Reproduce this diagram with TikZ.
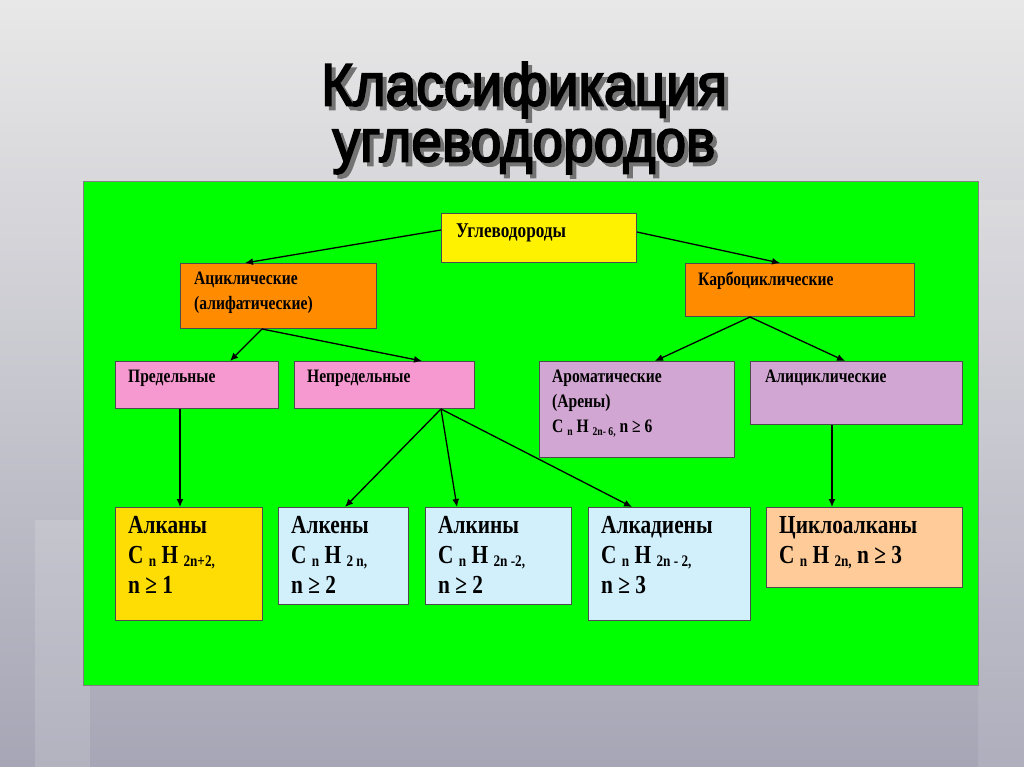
\documentclass[tikz,border=0pt]{standalone}
\usetikzlibrary{arrows.meta,calc}
\usepackage{fontspec}
\setmainfont{Liberation Serif}[FakeStretch=0.82]
\newfontfamily\titlefont{Liberation Sans}[FakeBold=3,FakeStretch=0.92]
\newcommand{\sbs}[1]{\raisebox{-0.3ex}{\fontsize{0.62em}{1em}\selectfont #1}}
\begin{document}
\begin{tikzpicture}[x=1pt,y=-1pt,
  bx/.style={draw=black!70, line width=1pt, anchor=north west, inner sep=0pt},
  lb/.style={anchor=north west, align=left, inner sep=0pt, font=\bfseries\fontsize{19}{25}\selectfont},
  lbb/.style={anchor=north west, align=left, inner sep=0pt, font=\bfseries\fontsize{26}{30}\selectfont},
  ar/.style={-{Latex[length=8pt,width=7pt]}, line width=1.3pt}]
\useasboundingbox (0,0) rectangle (1024,767);
\shade[top color=black!9, bottom color=blue!18!black!35] (0,0) rectangle (1024,767);
\fill[white, opacity=0.15] (35,520) rectangle (90,767);
\fill[white, opacity=0.1] (978,200) rectangle (1024,767);
% title
\foreach \dx/\c in {4/black!55, 0/black}{
\node[text=\c, font=\titlefont\fontsize{60}{56}\selectfont, align=center] (t\dx) at (524+\dx,118+\dx) {Классификация\\углеводородов};}
\node[bx, fill=green, draw=black!50, minimum width=895, minimum height=504] (panel) at (83,181) {};
% boxes
\node[bx, fill=yellow, minimum width=195, minimum height=49] (u) at (441,213) {};
\node[bx, fill=orange!90!yellow, minimum width=196, minimum height=65] (ac) at (180,263) {};
\node[bx, fill=orange!90!yellow, minimum width=229, minimum height=53] (kc) at (685,263) {};
\node[bx, fill=magenta!40, minimum width=163, minimum height=47] (pr) at (115,361) {};
\node[bx, fill=magenta!40, minimum width=180, minimum height=47] (np) at (294,361) {};
\node[bx, fill=violet!35, minimum width=195, minimum height=96] (arm) at (539,361) {};
\node[bx, fill=violet!35, minimum width=212, minimum height=63] (al) at (750,361) {};
\node[bx, fill=yellow!80!orange, minimum width=147, minimum height=113] (b1) at (115,507) {};
\node[bx, fill=cyan!18, minimum width=130, minimum height=97] (b2) at (278,507) {};
\node[bx, fill=cyan!18, minimum width=146, minimum height=97] (b3) at (425,507) {};
\node[bx, fill=cyan!18, minimum width=162, minimum height=113] (b4) at (588,507) {};
\node[bx, fill=orange!40, minimum width=196, minimum height=80] (b5) at (766,507) {};
% labels
\node[lb, font=\bfseries\fontsize{21}{26}\selectfont] (lu) at (456,224) {Углеводороды};
\node[lb] (lac) at (194,272) {Ациклические\\(алифатические)};
\node[lb] (lkc) at (698,272) {Карбоциклические};
\node[lb] (lpr) at (128,370) {Предельные};
\node[lb] (lnp) at (307,370) {Непредельные};
\node[lb] (larm) at (552,370) {Ароматические\\(Арены)\\C \sbs{n} H \sbs{2n- 6,} n ≥ 6};
\node[lb] (lal) at (765,370) {Алициклические};
\node[lbb] (l1) at (128,516) {Алканы\\C \sbs{n} H \sbs{2n+2,}\\n ≥ 1};
\node[lbb] (l2) at (291,516) {Алкены\\C \sbs{n} H \sbs{2 n,}\\n ≥ 2};
\node[lbb] (l3) at (438,516) {Алкины\\C \sbs{n} H \sbs{2n -2,}\\n ≥ 2};
\node[lbb] (l4) at (601,516) {Алкадиены\\C \sbs{n} H \sbs{2n - 2,}\\n ≥ 3};
\node[lbb] (l5) at (779,516) {Циклоалканы\\C \sbs{n} H \sbs{2n,} n ≥ 3};
% arrows
\draw[ar] ($(u.north west)+(0,17)$) -- ($(ac.north west)+(65,0)$);
\draw[ar] ($(u.north east)+(0,19)$) -- ($(kc.north west)+(95,0)$);
\coordinate (acb) at ($(ac.south west)+(82,0)$);
\draw[ar] (acb) -- ($(pr.north west)+(115,0)$);
\draw[ar] (acb) -- ($(np.north west)+(128,0)$);
\coordinate (kcb) at ($(kc.south west)+(65,0)$);
\draw[ar] (kcb) -- ($(arm.north west)+(116,0)$);
\draw[ar] (kcb) -- ($(al.north west)+(95,0)$);
\draw[ar] ($(pr.south west)+(65,0)$) -- ($(b1.north west)+(65,0)$);
\coordinate (npb) at ($(np.south west)+(147,0)$);
\draw[ar] (npb) -- ($(b2.north west)+(67,0)$);
\draw[ar] (npb) -- ($(b3.north west)+(32,0)$);
\draw[ar] (npb) -- ($(b4.north west)+(44,0)$);
\draw[ar] ($(al.south west)+(82,0)$) -- ($(b5.north west)+(66,0)$);
\end{tikzpicture}
\end{document}
